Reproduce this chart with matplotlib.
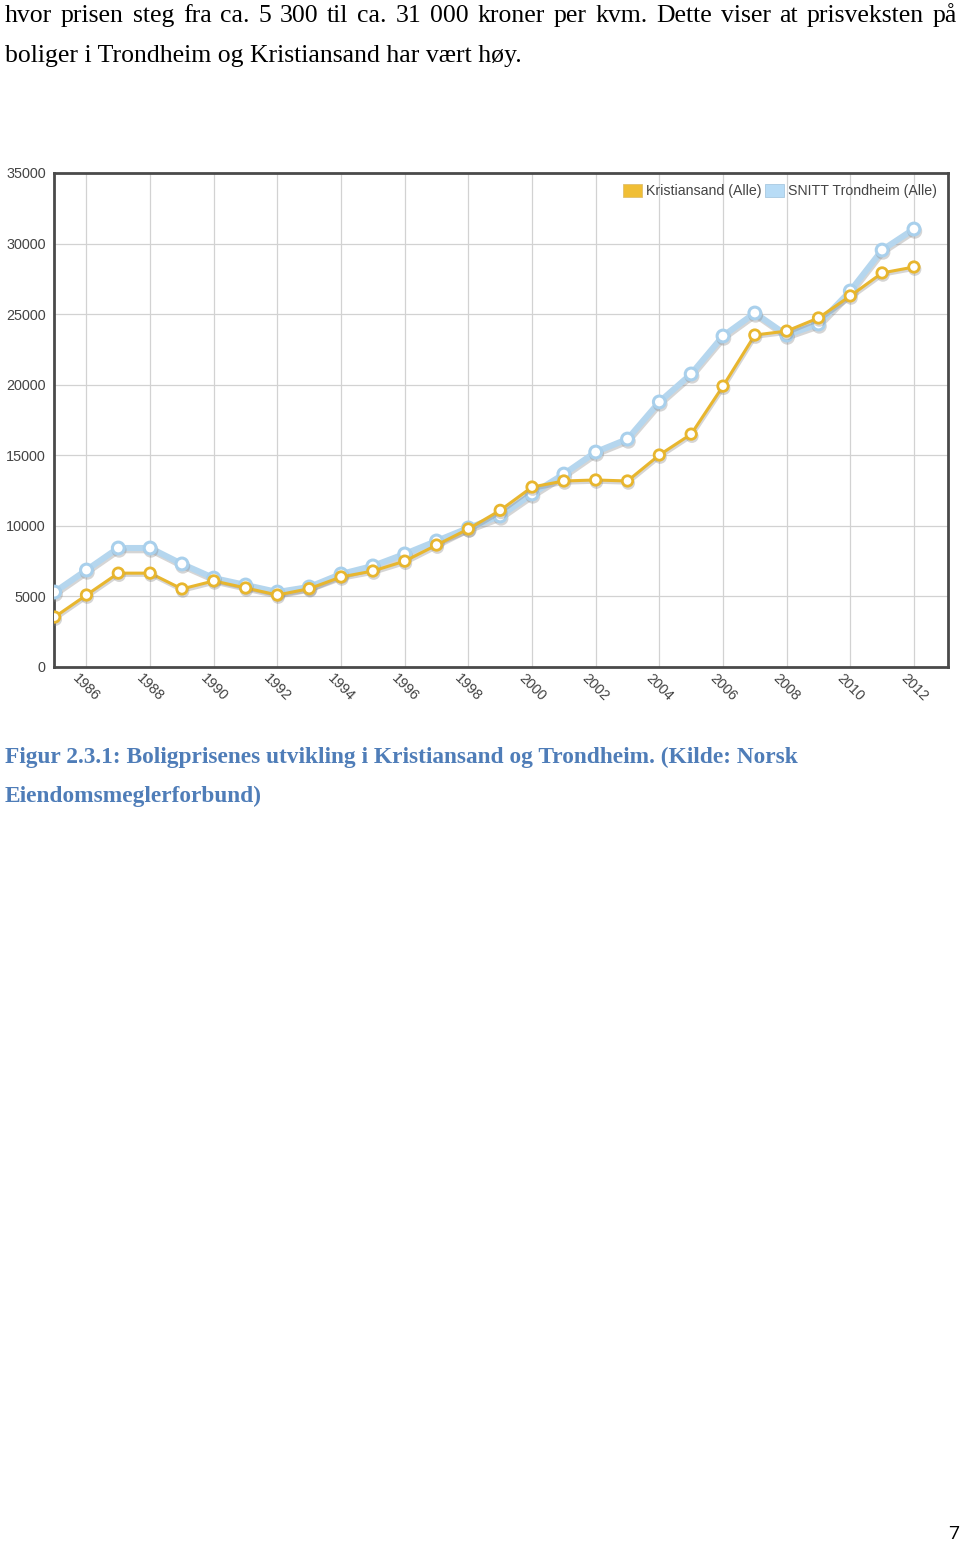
import matplotlib
matplotlib.use("Agg")
import matplotlib.pyplot as plt
import matplotlib.patheffects as pe
from matplotlib.patches import Patch

# ---------------- data ----------------
years = list(range(1985, 2013))
kristiansand = [3540, 5100, 6650, 6650, 5530, 6100, 5600, 5100, 5550, 6380, 6800, 7500,
                8640, 9780, 11100, 12750, 13180, 13250, 13180, 15020, 16500, 19900,
                23520, 23800, 24730, 26290, 27920, 28340]
trondheim = [5310, 6870, 8430, 8430, 7300, 6300, 5810, 5310, 5670, 6590, 7160, 8010,
             8930, 9850, 10700, 12260, 13670, 15230, 16150, 18780, 20760, 23450,
             25080, 23520, 24300, 26640, 29540, 31030]
series_names = ["Kristiansand (Alle)", "SNITT Trondheim (Alle)"]
xtick_years = list(range(1986, 2013, 2))
yticks = list(range(0, 35001, 5000))

body_line1 = "hvor prisen steg fra ca. 5 300 til ca. 31 000 kroner per kvm. Dette viser at prisveksten på"
body_line2 = "boliger i Trondheim og Kristiansand har vært høy."
caption1 = "Figur 2.3.1: Boligprisenes utvikling i Kristiansand og Trondheim. (Kilde: Norsk"
caption2 = "Eiendomsmeglerforbund)"
page_no = "7"

# ---------------- figure ----------------
W, H = 960, 1542
fig = plt.figure(figsize=(W / 100, H / 100), dpi=100)
fig.patch.set_facecolor("white")

def fx(px):
    return px / W

def fy(py):
    return 1 - py / H

gold = "#E8B62E"
blue = "#B5D6EE"
axcol = "#4a4a4a"
txtcol = "#444444"

ax = fig.add_axes([fx(54), fy(667), fx(948) - fx(54), fy(173) - fy(667)])
ax.set_xlim(1985 - 0.02, 2013.07)
ax.set_ylim(0, 35000)

shadow = [pe.SimpleLineShadow(offset=(0.6, -1.6), shadow_color="#888888", alpha=0.35), pe.Normal()]

ax.plot(years, trondheim, color=blue, lw=4.4, marker="o", ms=8.5, mfc="white",
        mec="#A9D0EC", mew=2.2, zorder=3, path_effects=shadow, solid_joinstyle="round")
ax.plot(years, kristiansand, color=gold, lw=2.2, marker="o", ms=7.5, mfc="white",
        mec=gold, mew=2.0, zorder=4, path_effects=shadow, solid_joinstyle="round")

ax.set_yticks(yticks)
ax.set_yticklabels([str(v) for v in yticks])
ax.set_xticks(xtick_years)
ax.set_xticklabels([str(y) for y in xtick_years], rotation=-45, ha="center", va="top")
ax.tick_params(axis="both", length=0, labelcolor=txtcol, labelsize=10.4)
ax.tick_params(axis="y", pad=6)
ax.tick_params(axis="x", pad=3)
for lab in ax.get_xticklabels() + ax.get_yticklabels():
    lab.set_family("Liberation Sans")

ax.grid(True, color="#d2d2d2", lw=0.9)
ax.set_axisbelow(True)
for s in ax.spines.values():
    s.set_color(axcol)
    s.set_linewidth(2.0)

handles = [Patch(facecolor="#F0BE35", edgecolor="#e0c070", lw=0.6),
           Patch(facecolor="#B8DCF6", edgecolor="#a8c8e0", lw=0.6)]
leg = ax.legend(handles, series_names, loc="upper right", ncol=2, frameon=False,
                bbox_to_anchor=(1.002, 1.003), borderaxespad=0.5,
                handlelength=1.35, handleheight=0.95, handletextpad=0.3, columnspacing=0.2,
                prop={"family": "Liberation Sans", "size": 10.2})
for t in leg.get_texts():
    t.set_color(txtcol)

# ---------------- page text ----------------
serif = "Liberation Serif"
body_size = 18.5
renderer = fig.canvas.get_renderer()

# justified first line
words = body_line1.split(" ")
left_px, right_px = 5, 957
tmp = [fig.text(0, 0, w, family=serif, size=body_size) for w in words]
widths = [t.get_window_extent(renderer).width for t in tmp]
for t in tmp:
    t.remove()
gap = (right_px - left_px - sum(widths)) / (len(words) - 1)
x = left_px
for w, wd in zip(words, widths):
    fig.text(fx(x), fy(22), w, family=serif, size=body_size, va="baseline", ha="left", color="black")
    x += wd + gap

fig.text(fx(5), fy(62), body_line2, family=serif, size=body_size, va="baseline", ha="left", color="black")

capcol = "#4F7DB8"
cap_size = 16.8
fig.text(fx(5), fy(763), caption1, family=serif, weight="bold", size=cap_size, va="baseline",
         ha="left", color=capcol)
fig.text(fx(5), fy(802), caption2, family=serif, weight="bold", size=cap_size, va="baseline",
         ha="left", color=capcol)

fig.text(fx(959), fy(1539), page_no, family="Open Sans", size=14, va="baseline", ha="right", color="black")

fig.savefig("out.png", dpi=100, facecolor="white")
